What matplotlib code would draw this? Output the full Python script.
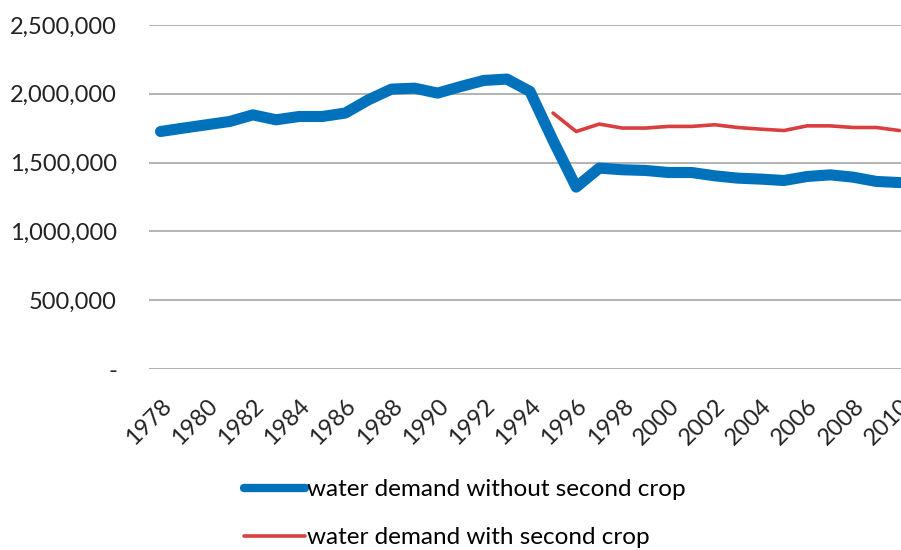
import matplotlib
matplotlib.use('Agg')
import matplotlib.pyplot as plt
from matplotlib.ticker import FuncFormatter

years = list(range(1978, 2011))
without_second = [1726000, 1751000, 1775000, 1799000, 1847000, 1811000, 1835000, 1835000,
                  1860000, 1956000, 2034000, 2041000, 2005000, 2053000, 2097000, 2107000,
                  2017000, 1660000, 1322000, 1460000, 1448000, 1443000, 1428000, 1428000,
                  1404000, 1387000, 1380000, 1370000, 1399000, 1411000, 1394000, 1363000,
                  1355000]
with_second_years = list(range(1995, 2011))
with_second = [1860000, 1726000, 1780000, 1751000, 1751000, 1763000, 1763000, 1775000,
               1755000, 1743000, 1733000, 1767000, 1767000, 1755000, 1755000, 1733000]
tick_years = list(range(1978, 2011, 2))

plt.rcParams['font.family'] = ['Lato', 'DejaVu Sans']

fig = plt.figure(figsize=(9.01, 5.5), dpi=100)
ax = fig.add_axes([149 / 901, 1 - 369 / 550, (911 - 149) / 901, 344 / 550])

ax.plot(years, without_second, color='#0072BC', lw=8, solid_capstyle='round',
        solid_joinstyle='round', label='water demand without second crop')
ax.plot(with_second_years, with_second, color='#DA3F3F', lw=2.6, solid_capstyle='round',
        label='water demand with second crop')

ax.set_xlim(1977.5, 2010.5)
ax.set_ylim(0, 2500000)
ax.set_yticks(range(0, 2500001, 500000))
ax.yaxis.set_major_formatter(FuncFormatter(lambda v, p: '-' if v == 0 else f'{int(v):,}'))
ax.set_xticks(tick_years)
ax.set_xticklabels([str(y) for y in tick_years], rotation=45, ha='right',
                   rotation_mode='anchor')

ax.grid(axis='y', color='#A6A6A6', lw=1.2)
ax.set_axisbelow(True)
for s in ['top', 'right', 'left', 'bottom']:
    ax.spines[s].set_visible(False)
ax.tick_params(axis='both', length=0, labelsize=17, colors='#222222')
ax.tick_params(axis='y', pad=23)
ax.tick_params(axis='x', pad=19)

leg = fig.legend(loc='upper left', bbox_to_anchor=(244 / 901, 1 - 479 / 550), frameon=False,
                 fontsize=17.5, handlelength=2.5, handletextpad=0.08, labelspacing=1.12,
                 borderaxespad=0, borderpad=0)
leg.get_lines()[0].set_linewidth(6)

fig.savefig('out.png', dpi=100)
